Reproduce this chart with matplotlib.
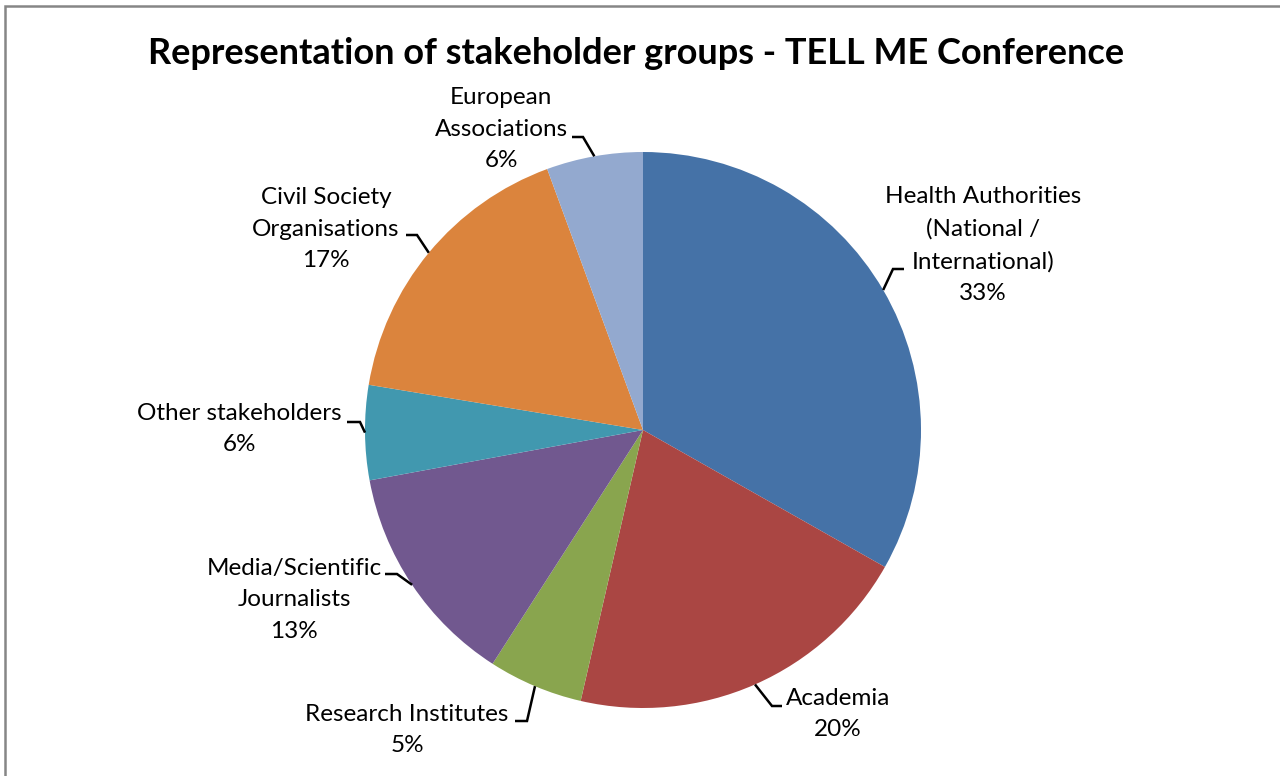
import numpy as np
import matplotlib
matplotlib.use("Agg")
import matplotlib.pyplot as plt
from matplotlib.patches import Rectangle

plt.rcParams['font.family'] = ['Lato', 'DejaVu Sans']

# data
groups = ["Health Authorities\n(National /\nInternational)", "Academia",
          "Research Institutes", "Media/Scientific\nJournalists",
          "Other stakeholders", "Civil Society\nOrganisations",
          "European\nAssociations"]
shares = [33.2, 20.4, 5.5, 13.0, 5.5, 16.8, 5.6]
pct_labels = ["33%", "20%", "5%", "13%", "6%", "17%", "6%"]
colors = ["#4572A7", "#AA4643", "#89A54E", "#71588F", "#4198AF", "#DB843D", "#93A9CF"]

# label layout in pixels: text centre, leader elbow, leader end
text_px = [(983, 245), (838, 714), (407, 730), (294, 600), (239, 429), (326, 229), (501, 129)]
elbow_px = [(893, 269), (772, 706), (527, 721), (397, 574), (360, 422), (417, 235), (583, 137)]
end_px = [(904, 269), (782, 706), (515, 721), (385, 574), (347, 422), (406, 235), (572, 137)]

W, H = 1280, 776
cx, cy, R = 643, 430, 278


def to_data(p):
    return ((p[0] - cx) / R, (cy - p[1]) / R)


fig = plt.figure(figsize=(W / 100, H / 100), dpi=100)
ax = fig.add_axes([0, 0, 1, 1])
wedges, _ = ax.pie(shares, colors=colors, startangle=90, counterclock=False,
                   radius=1, wedgeprops=dict(linewidth=0))
ax.set_xlim(-cx / R, (W - cx) / R)
ax.set_ylim(-(H - cy) / R, cy / R)
ax.set_aspect('auto')
ax.axis('off')

for i, w in enumerate(wedges):
    mid = np.deg2rad((w.theta1 + w.theta2) / 2)
    edge = (np.cos(mid), np.sin(mid))
    el = to_data(elbow_px[i])
    en = to_data(end_px[i])
    ax.plot([edge[0], el[0], en[0]], [edge[1], el[1], en[1]], color="black", lw=1.8,
            solid_capstyle='butt', solid_joinstyle='miter')
    tx, ty = to_data(text_px[i])
    ax.text(tx, ty, groups[i] + "\n" + pct_labels[i], ha="center", va="center",
            fontsize=17.5, linespacing=1.62, color="black")

fig.text(636 / W, 1 - 53 / H, "Representation of stakeholder groups - TELL ME Conference",
         ha="center", va="center", fontsize=26, fontweight="bold")

fig.patches.append(Rectangle((5 / W, -0.1), 1.2, 1.1 - 6 / H, transform=fig.transFigure,
                             fill=False, edgecolor="#868686", lw=1.8))

fig.savefig("out.png", dpi=100)
